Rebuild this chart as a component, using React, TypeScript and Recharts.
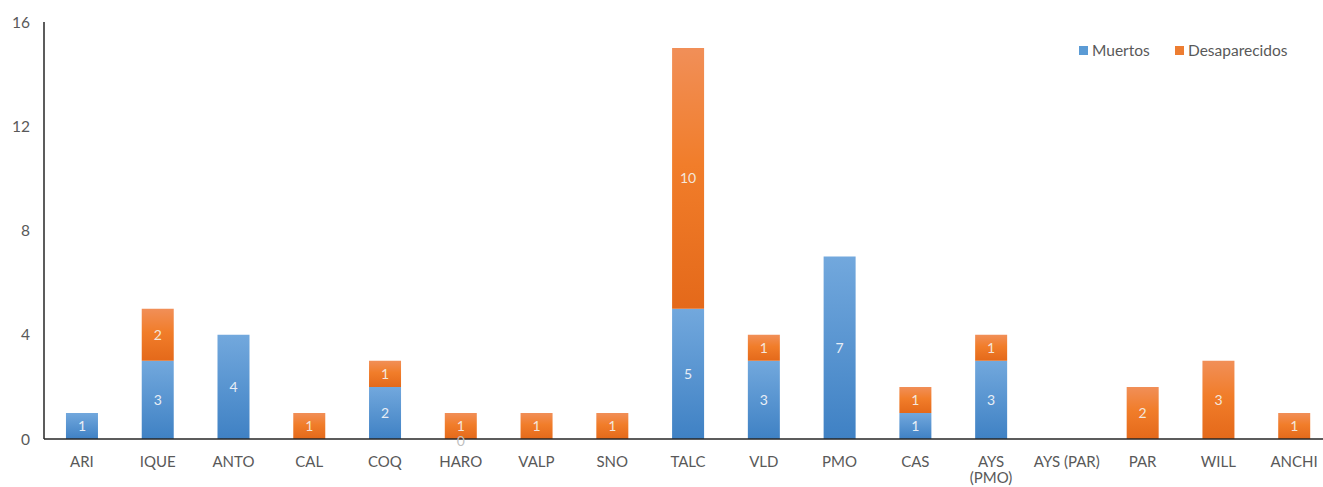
import { BarChart, Bar, XAxis, YAxis, LabelList } from 'recharts';

const categories = ['ARI', 'IQUE', 'ANTO', 'CAL', 'COQ', 'HARO', 'VALP', 'SNO', 'TALC', 'VLD', 'PMO', 'CAS', 'AYS\n(PMO)', 'AYS (PAR)', 'PAR', 'WILL', 'ANCHI'];
const muertos = [1, 3, 4, null, 2, 0, null, null, 5, 3, 7, 1, 3, null, null, null, null];
const desaparecidos = [null, 2, null, 1, 1, 1, 1, 1, 10, 1, null, 1, 1, null, 2, 3, 1];
const yTicks = [0, 4, 8, 12, 16];

const data = categories.map((name, i) => ({ name, muertos: muertos[i], desaparecidos: desaparecidos[i] }));

const FONT = 'Lato, "Open Sans", sans-serif';
const TEXT = '#595959';

function XTick({ x, y, payload }: any) {
  const lines = String(payload.value).split('\n');
  return (
    <text x={x} y={y + 26} textAnchor="middle" fill={TEXT} fontSize={15} fontFamily={FONT}>
      {lines.map((l, i) => (
        <tspan key={i} x={x} dy={i === 0 ? 0 : 16}>{l}</tspan>
      ))}
    </text>
  );
}

function BarLabel({ x, y, width, height, value, fill }: any) {
  if (value === null || value === undefined) return null;
  return (
    <text x={x + width / 2} y={y + height / 2 + 5} textAnchor="middle" fill={fill} fontSize={14} fontFamily={FONT}>
      {value}
    </text>
  );
}

// zero-height Muertos segments get no label from recharts, so the orange label draws the "0" at its base
function OrangeLabel(p: any) {
  const { x, y, width, height, value } = p;
  if (!value || value.desaparecidos == null) return null;
  return (
    <g>
      <BarLabel {...p} value={value.desaparecidos} fill="#f4e6dc" />
      {value.muertos === 0 && (
        <text x={x + width / 2} y={y + height + 7} textAnchor="middle" fill="#bfbfbf" fontSize={14} fontFamily={FONT}>
          0
        </text>
      )}
    </g>
  );
}

function LegendBox() {
  const items = [
    { label: 'Muertos', color: '#5b9bd5', w: 96 },
    { label: 'Desaparecidos', color: '#ed7d31', w: 130 },
  ];
  return (
    <div style={{ position: 'absolute', left: 1079, top: 41, display: 'flex', fontFamily: FONT, fontSize: 15.5, color: TEXT }}>
      {items.map((it) => (
        <div key={it.label} style={{ display: 'flex', alignItems: 'center', width: it.w }}>
          <span style={{ width: 9, height: 9, background: it.color, marginRight: 4 }} />
          <span>{it.label}</span>
        </div>
      ))}
    </div>
  );
}

export default function App() {
  return (
    <div style={{ position: 'absolute', left: 0, top: 0, width: 1323, height: 487, overflow: 'hidden', background: '#fff' }}>
      <BarChart width={1332} height={487} data={data} barCategoryGap="29%" margin={{ top: 22, right: 0, left: 0, bottom: 0 }}>
        <defs>
          <linearGradient id="gBlue" x1="0" y1="0" x2="0" y2="1">
            <stop offset="0%" stopColor="#72a8dd" />
            <stop offset="100%" stopColor="#3f81c4" />
          </linearGradient>
          <linearGradient id="gOrange" x1="0" y1="0" x2="0" y2="1">
            <stop offset="0%" stopColor="#f18f58" />
            <stop offset="45%" stopColor="#f17d2a" />
            <stop offset="100%" stopColor="#e4691a" />
          </linearGradient>
        </defs>
        <XAxis
          dataKey="name"
          interval={0}
          height={48}
          tickLine={false}
          tickSize={0}
          axisLine={{ stroke: '#262626', strokeWidth: 1.5 }}
          tick={<XTick />}
        />
        <YAxis
          width={44}
          domain={[0, 16]}
          ticks={yTicks}
          tickLine={false}
          tickSize={0}
          tickMargin={14}
          axisLine={{ stroke: '#262626', strokeWidth: 1.5 }}
          tick={{ fill: TEXT, fontSize: 15.5, fontFamily: FONT }}
        />
        <Bar dataKey="muertos" stackId="a" fill="url(#gBlue)" isAnimationActive={false}>
          <LabelList dataKey="muertos" content={(p: any) => <BarLabel {...p} fill="#e8eef6" />} />
        </Bar>
        <Bar dataKey="desaparecidos" stackId="a" fill="url(#gOrange)" isAnimationActive={false}>
          <LabelList dataKey={(d: any) => d} content={(p: any) => <OrangeLabel {...p} />} />
        </Bar>
      </BarChart>
      <LegendBox />
    </div>
  );
}
